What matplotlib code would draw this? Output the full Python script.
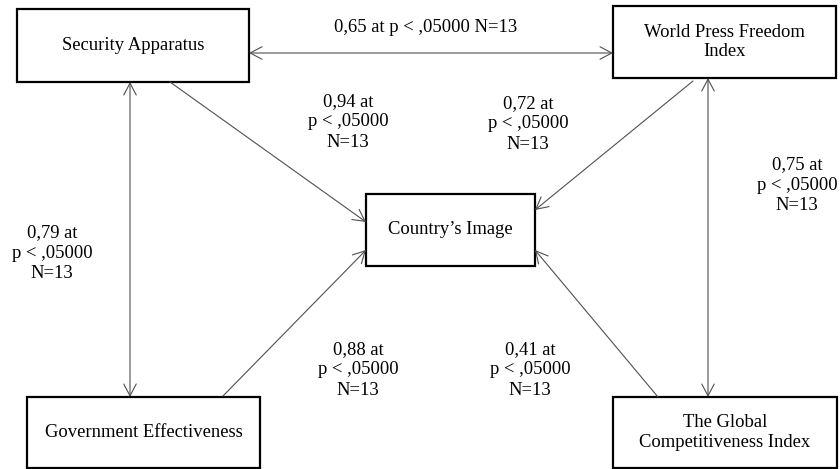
import matplotlib
matplotlib.use("Agg")
import matplotlib.pyplot as plt
from matplotlib.patches import Rectangle

plt.rcParams['font.family'] = ['Liberation Serif', 'DejaVu Serif']

# node names
nodes = ["Security Apparatus", "World Press Freedom\nIndex", "Country\u2019s Image",
         "Government Effectiveness", "The Global\nCompetitiveness Index"]

# correlation coefficients shown on the links
pairs = [("SA", "WPF"), ("SA", "CI"), ("WPF", "CI"), ("SA", "GE"),
         ("WPF", "GCI"), ("GE", "CI"), ("GCI", "CI")]
coefs = ["0,65", "0,94", "0,72", "0,79", "0,75", "0,88", "0,41"]
p_text = "p < ,05000"
n_text = "N=13"

# layout (pixel coordinates, y downwards)
boxes = {
    "SA": (17, 9, 249, 82),
    "WPF": (613, 6, 836, 78),
    "CI": (366, 194, 535, 266),
    "GE": (27, 397, 260, 468),
    "GCI": (613, 397, 837, 468),
}
keys = ["SA", "WPF", "CI", "GE", "GCI"]

links = {
    ("SA", "WPF"): ((249, 53), (613, 53), "<->"),
    ("SA", "CI"): ((170, 82), (366, 222), "->"),
    ("WPF", "CI"): ((693, 81), (535, 210), "->"),
    ("SA", "GE"): ((130, 82), (130, 397), "<->"),
    ("WPF", "GCI"): ((708, 78), (708, 397), "<->"),
    ("GE", "CI"): ((223, 396), (366, 250), "->"),
    ("GCI", "CI"): ((658, 397), (535, 250), "->"),
}
label_pos = {
    ("SA", "WPF"): (426, 27),
    ("SA", "CI"): (348, 122),
    ("WPF", "CI"): (528, 124),
    ("SA", "GE"): (52, 253),
    ("WPF", "GCI"): (797, 185),
    ("GE", "CI"): (358, 370),
    ("GCI", "CI"): (530, 370),
}

fig = plt.figure(figsize=(8.4, 4.69), dpi=100)
ax = fig.add_axes([0, 0, 1, 1])
ax.set_xlim(0, 840)
ax.set_ylim(469, 0)
ax.axis('off')

fs = 13.4
for k, name in zip(keys, nodes):
    x0, y0, x1, y1 = boxes[k]
    ax.add_patch(Rectangle((x0, y0), x1 - x0, y1 - y0, fill=False,
                           edgecolor='black', linewidth=1.6))
    ax.text((x0 + x1) / 2, (y0 + y1) / 2, name, ha='center', va='center',
            fontsize=fs, linespacing=1.2)

for pair, c in zip(pairs, coefs):
    start, end, style = links[pair]
    ax.annotate("", xy=end, xytext=start,
                arrowprops=dict(arrowstyle=style + ",head_length=0.85,head_width=0.45",
                                color='#505050', lw=0.8, shrinkA=0, shrinkB=0))
    lx, ly = label_pos[pair]
    if pair == ("SA", "WPF"):
        txt = f"{c} at {p_text} {n_text}"
    else:
        txt = f"{c} at\n{p_text}\n{n_text}"
    ax.text(lx, ly, txt, ha='center', va='center', fontsize=fs, linespacing=1.3)

fig.savefig("out.png", dpi=100)
